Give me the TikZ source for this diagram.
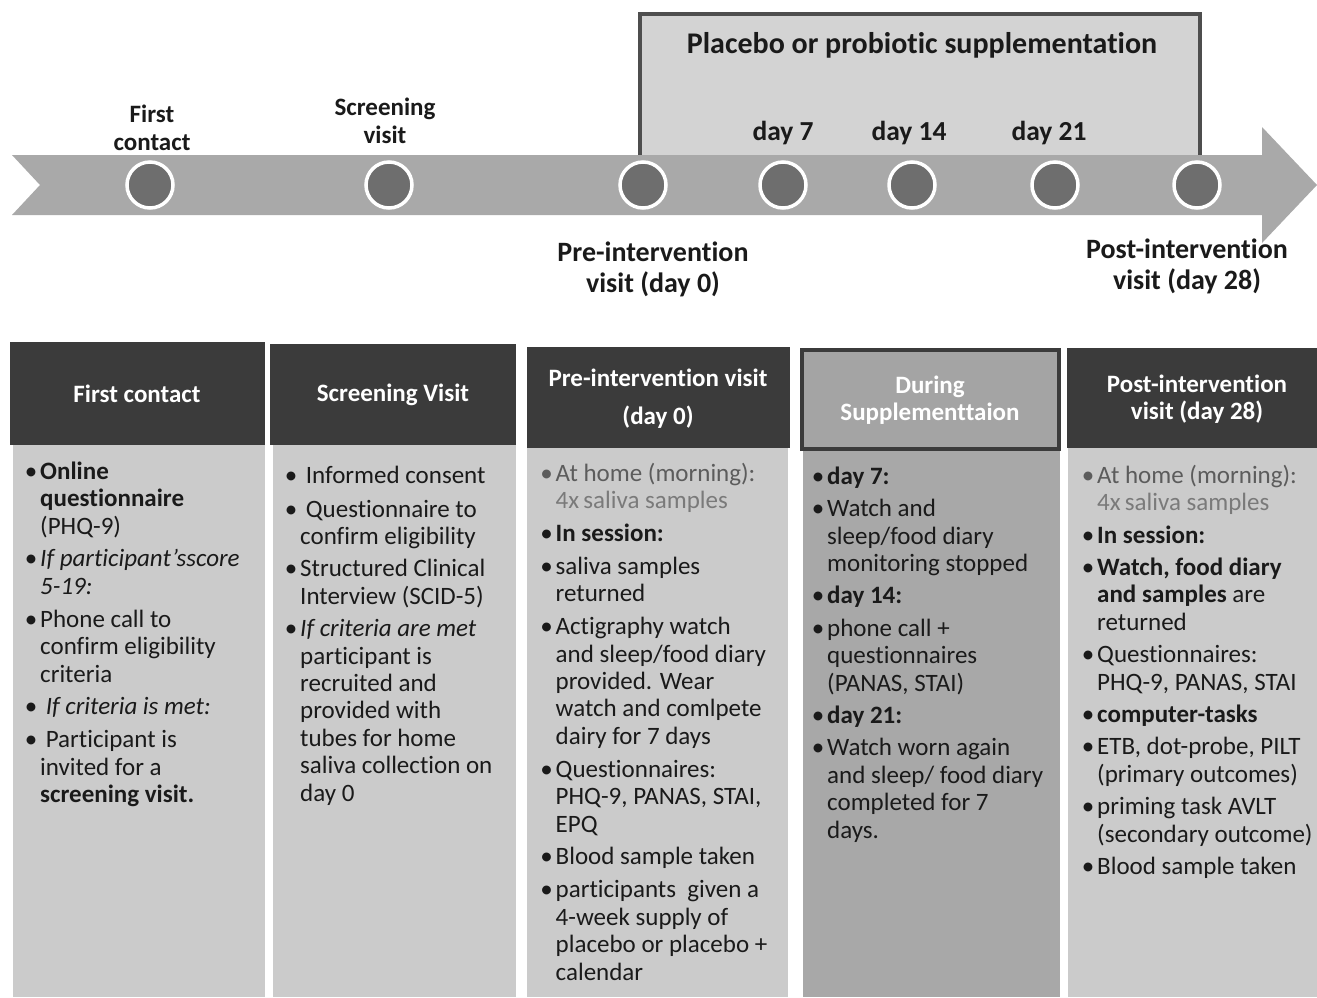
\documentclass[tikz,border=0pt]{standalone}
\usepackage{fontspec}
\setmainfont{Carlito}[Ligatures=TeX,RawFeature={-liga;-clig;-calt;-rlig;-dlig}]
\definecolor{hdr}{HTML}{3B3B3B}
\definecolor{bodyc}{HTML}{CBCBCB}
\definecolor{band}{HTML}{A9A9A9}
\definecolor{dotc}{HTML}{6E6E6E}
\definecolor{plac}{HTML}{D3D3D3}
\definecolor{placb}{HTML}{4E4E4E}
\definecolor{midhdr}{HTML}{A4A4A4}
\definecolor{midbody}{HTML}{A8A8A8}
\definecolor{txt}{HTML}{1A1A1A}
\definecolor{gtxt}{HTML}{5C5C5C}
\definecolor{ltxt}{HTML}{7A7A7A}
\newcommand\bi{\makebox[18pt][c]{\textbullet}}
\newcommand\ci{\hspace*{18pt}}
\newcommand\fs{\rule{0pt}{20pt}}
\begin{document}
\begin{tikzpicture}[x=1pt,y=-1pt,
  milestone/.style={circle, fill=dotc, draw=white, line width=3.5pt, minimum size=46pt, inner sep=0pt},
  toplbl/.style={align=center, inner sep=0pt, text=txt, font=\fontsize{25}{28}\selectfont\bfseries},
  botlbl/.style={align=center, inner sep=0pt, text=txt, font=\fontsize{28}{31}\selectfont\bfseries},
  daylbl/.style={inner sep=0pt, text=txt, font=\fontsize{27.5}{30}\selectfont\bfseries},
  hdrtxt/.style={align=center, inner sep=0pt, text=white, font=\fontsize{25}{27}\selectfont\bfseries},
  coltext/.style={anchor=north west, inner sep=0pt, align=left, text=txt, font=\fontsize{25}{27.4}\selectfont}
]
\useasboundingbox (0,0) rectangle (1317,997);
\fill[white] (0,0) rectangle (1317,997);

% supplementation box
\draw[placb, line width=4pt, fill=plac] (640,14) rectangle (1200,160);
\node[inner sep=0pt, text=txt, font=\fontsize{30}{32}\selectfont\bfseries] (ptitle) at (922,45) {Placebo or probiotic supplementation};

% timeline band
\fill[band] (12,155) -- (1262,155) -- (1262,127) -- (1317,185) -- (1262,243) -- (1262,215) -- (12,215) -- (40,185) -- cycle;

\node[milestone] (c1) at (150,185) {};
\node[milestone] (c2) at (389,185) {};
\node[milestone] (c3) at (643,185) {};
\node[milestone] (c4) at (783,185) {};
\node[milestone] (c5) at (912,185) {};
\node[milestone] (c6) at (1055,185) {};
\node[milestone] (c7) at (1197,185) {};

\node[toplbl] (lfc) at (152,128) {First\\contact};
\node[toplbl] (lsv) at (385,121) {Screening\\visit};
\node[botlbl] (lpre) at (653,269) {Pre-intervention\\visit (day 0)};
\node[botlbl] (lpost) at (1187,266) {Post-intervention\\visit (day 28)};
\node[daylbl] (d7) at (783,133) {day 7};
\node[daylbl] (d14) at (909,133) {day 14};
\node[daylbl] (d21) at (1049,133) {day 21};

% columns
\fill[hdr] (10,342) rectangle (265,445);
\fill[bodyc] (13,445) rectangle (265,997);
\fill[hdr] (270,344) rectangle (516,445);
\fill[bodyc] (273,445) rectangle (516,997);
\fill[hdr] (527,347) rectangle (790,448);
\fill[bodyc] (527,448) rectangle (788,997);
\fill[midbody] (803,450) rectangle (1060,997);
\draw[hdr, line width=4pt, fill=midhdr] (802,350) rectangle (1059,449);
\fill[hdr] (1067,348) rectangle (1317,448);
\fill[bodyc] (1068,448) rectangle (1317,997);

\node[hdrtxt] (h1) at (137,394) {First contact};
\node[hdrtxt] (h2) at (393,395) {Screening Visit};
\node[hdrtxt, font=\fontsize{25}{38}\selectfont\bfseries] (h3) at (658,399) {Pre-intervention visit\\(day 0)};
\node[hdrtxt] (h4) at (930,400) {During\\Supplementtaion};
\node[hdrtxt] (h5) at (1197,399) {Post-intervention\\visit (day 28)};

\node[coltext] (t1) at (22,459) {\fs\bi\textbf{Online}\\
\ci\textbf{questionnaire}\\
\ci(PHQ-9)\\[5.5pt]
\bi\textit{If participant'sscore}\\
\ci\textit{5-19:}\\[5.5pt]
\bi Phone call to\\
\ci confirm eligibility\\
\ci criteria\\[5.5pt]
\bi\ \textit{If criteria is met:}\\[5.5pt]
\bi\ Participant is\\
\ci invited for a\\
\ci\textbf{screening visit.}};

\node[coltext] (t2) at (282,463) {\fs\bi\ Informed consent\\[6.5pt]
\bi\ Questionnaire to\\
\ci confirm eligibility\\[5pt]
\bi Structured Clinical\\
\ci Interview (SCID-5)\\[5pt]
\bi\textit{If criteria are met}\\
\ci participant is\\
\ci recruited and\\
\ci provided with\\
\ci tubes for home\\
\ci saliva collection on\\
\ci day 0};

\node[coltext] (t3) at (537.5,461) {\fs{\color{gtxt}\bi At home (morning):}\\
\ci{\color{ltxt}4x\,saliva samples}\\[5.5pt]
\bi\textbf{In session:}\\[5.5pt]
\bi saliva samples\\
\ci returned\\[5.5pt]
\bi Actigraphy watch\\
\ci and sleep/food diary\\
\ci provided. Wear\\
\ci watch and comlpete\\
\ci dairy for 7 days\\[5.5pt]
\bi Questionnaires:\\
\ci PHQ-9, PANAS, STAI,\\
\ci EPQ\\[5.5pt]
\bi Blood sample taken\\[5.5pt]
\bi participants\ \ given a\\
\ci 4-week supply of\\
\ci placebo or placebo +\\
\ci calendar};

\node[coltext] (t4) at (809,464) {\fs\bi\textbf{day 7:}\\[5pt]
\bi Watch and\\
\ci sleep/food diary\\
\ci monitoring stopped\\[5pt]
\bi\textbf{day 14:}\\[5pt]
\bi phone call +\\
\ci questionnaires\\
\ci (PANAS, STAI)\\[5pt]
\bi\textbf{day 21:}\\[5pt]
\bi Watch worn again\\
\ci and sleep/ food diary\\
\ci completed for 7\\
\ci days.};

\node[coltext] (t5) at (1079,463) {\fs{\color{gtxt}\bi At home (morning):}\\
\ci{\color{ltxt}4x\,saliva samples}\\[5pt]
\bi\textbf{In session:}\\[5pt]
\bi\textbf{Watch, food diary}\\
\ci\textbf{and samples} are\\
\ci returned\\[5pt]
\bi Questionnaires:\\
\ci PHQ-9, PANAS, STAI\\[5pt]
\bi\textbf{computer-tasks}\\[5pt]
\bi ETB, dot-probe, PILT\\
\ci (primary outcomes)\\[5pt]
\bi priming task AVLT\\
\ci (secondary outcome)\\[5pt]
\bi Blood sample taken};
\end{tikzpicture}
\end{document}
